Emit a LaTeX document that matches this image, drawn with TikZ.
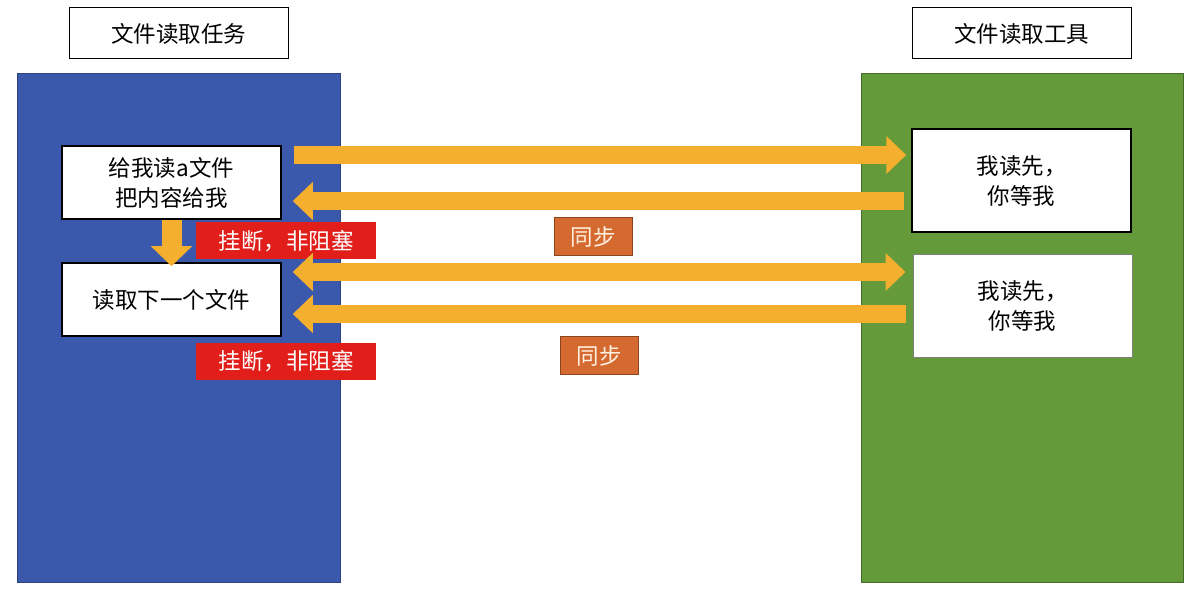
\documentclass[tikz,border=0pt]{standalone}
\usepackage{fontspec}
\setmainfont{Noto Sans CJK SC}
\usetikzlibrary{arrows.meta,calc}
\definecolor{taskblue}{RGB}{58,88,172}
\definecolor{toolgreen}{RGB}{101,154,58}
\definecolor{arrorange}{RGB}{243,175,45}
\definecolor{hangred}{RGB}{225,30,25}
\definecolor{syncorange}{RGB}{212,106,48}
\tikzstyle{box}=[draw=black,fill=white,line width=1.5pt,minimum width=219pt,align=center]
\tikzstyle{farr}=[draw=arrorange,line width=18pt,-{Triangle[length=20pt,width=37pt]}]
\tikzstyle{dfarr}=[farr,{Triangle[length=20pt,width=37pt]}-{Triangle[length=20pt,width=37pt]}]
\tikzstyle{tag}=[fill=hangred,text=white,minimum width=180pt,minimum height=37pt]
\tikzstyle{sync}=[fill=syncorange,draw=syncorange!65!black,text=white!88!orange,minimum width=78pt,minimum height=38pt]

\begin{document}
\begin{tikzpicture}[x=1pt,y=-1pt,font=\fontsize{22.5}{30}\selectfont]
\useasboundingbox[fill=white] (0,0) rectangle (1197,596);
\def\panel#1#2{(#1,73) rectangle (#2,582)}
\filldraw[fill=taskblue,draw=taskblue!75!black] \panel{17}{340};
\filldraw[fill=toolgreen,draw=toolgreen!70!black] \panel{861}{1183};
\node[box,line width=1pt,minimum height=51pt] (task) at (178.5,33.5) {文件读取任务};
\node[box,line width=1pt,minimum height=51pt] (tool) at (1021.5,33.5) {文件读取工具};
\node[box,minimum height=73pt] (ask) at (171.5,182.5) {给我读a文件\\把内容给我};
\node[box,minimum height=73pt] (next) at (171.5,299.5) {读取下一个文件};
\node[box,minimum height=103pt] (readA) at (1021.5,180.5) {我读先，\\你等我};
\node[box,draw=gray,line width=1pt,minimum height=103pt] (readB) at (1022.5,306) {我读先，\\你等我};
\node[tag] (hang1) at (286,241) {挂断，非阻塞};
\node[tag] (hang2) at (286,361.5) {挂断，非阻塞};
\node[sync] (sync1) at (593,236.5) {同步};
\node[sync] (sync2) at (599,355.5) {同步};
% ask -> tool, tool -> ask
\draw[farr] ($(ask.east)+(12,-27.5)$) -- ($(ask.east -| readA.west)+(-5,-27.5)$);
\draw[farr] ($(ask.east -| readA.west)+(-7,18.5)$) -- ($(ask.east)+(11,18.5)$);
\draw[dfarr] ($(next.east)+(11,-27.5)$) -- ($(next.east -| readB.west)+(-7,-27.5)$);
\draw[farr] ($(next.east -| readB.west)+(-7,14.5)$) -- ($(next.east)+(11,14.5)$);
% hang up, go on
\draw[farr,line width=20pt,-{Triangle[length=20pt,width=40pt]}] (ask.south) -- ($(next.north)+(0,4)$);
\end{tikzpicture}
\end{document}
